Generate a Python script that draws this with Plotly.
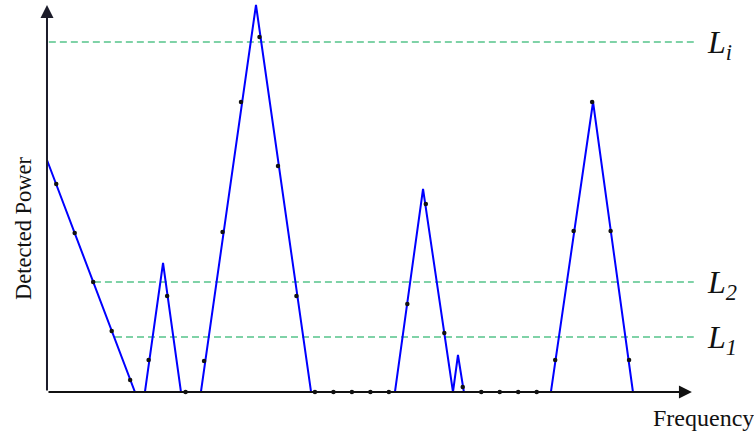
import plotly.graph_objects as go

# Detected power envelope (blue polyline): frequency (sample units) and power (arbitrary units)
line_freq = [0, 4.76, 5.30, 6.28, 7.25, 8.33, 11.31, 14.29, 18.83, 20.35, 21.97, 22.24, 22.56, 27.27, 29.55, 31.71]
line_power = [232, 0, 0, 129, 0, 0, 387, 0, 0, 203, 0, 37, 0, 0, 290, 0]

# Sampled points (black dots)
sample_freq = [k + 0.5 for k in range(32)]
sample_power = [208, 159, 110, 61, 12, 32, 96, 0, 31, 160, 290, 355, 226, 96,
                0, 0, 0, 0, 0, 88, 188, 59, 5, 0, 0, 0, 0, 32, 161, 290, 161, 32]

# Threshold levels
level_labels = ["<i>L<sub>i</sub></i>", "<i>L<sub>2</sub></i>", "<i>L<sub>1</sub></i>"]
level_values = [350, 110, 55]
level_starts = [0.1, 2.54, 3.68]

x_end = 34.9
y_end = 387
SERIF = "Liberation Serif, serif"

fig = go.Figure()
fig.add_trace(go.Scatter(x=line_freq, y=line_power, mode="lines", cliponaxis=False,
                         line=dict(color="#0000ff", width=2), hoverinfo="skip"))
fig.add_trace(go.Scatter(x=sample_freq, y=sample_power, mode="markers", cliponaxis=False,
                         marker=dict(color="#111111", size=4.5), hoverinfo="skip"))

for lab, val, x0 in zip(level_labels, level_values, level_starts):
    fig.add_shape(type="line", x0=x0, x1=35.0, y0=val, y1=val, xref="x", yref="y",
                  line=dict(color="#55c48a", width=1.5, dash="7px,4px"), layer="below")
    fig.add_annotation(x=35.6, y=val - 2, text=lab, showarrow=False, xanchor="left",
                       yanchor="middle", font=dict(family=SERIF, size=32, color="#111111"))

# axes with arrowheads
fig.add_annotation(x=x_end, y=0, ax=0, ay=0, xref="x", yref="y", axref="x", ayref="y",
                   text="", showarrow=True, arrowhead=2, arrowsize=1.3, arrowwidth=2,
                   arrowcolor="#111111", standoff=0)
fig.add_annotation(x=0, y=y_end, ax=0, ay=0, xref="x", yref="y", axref="x", ayref="y",
                   text="", showarrow=True, arrowhead=2, arrowsize=1.3, arrowwidth=2,
                   arrowcolor="#1c1c2a", standoff=0)

fig.add_annotation(x=-1.3, y=164, text="Detected Power", showarrow=False, textangle=-90,
                   xanchor="center", yanchor="middle",
                   font=dict(family=SERIF, size=22.5, color="#111111"))
fig.add_annotation(x=35.55, y=-26, text="Frequency", showarrow=False,
                   xanchor="center", yanchor="middle",
                   font=dict(family=SERIF, size=24, color="#111111"))

fig.update_layout(
    width=754, height=435, margin=dict(l=0, r=0, t=0, b=0),
    paper_bgcolor="white", plot_bgcolor="white", showlegend=False,
    xaxis=dict(range=[-2.543, 38.26], visible=False, fixedrange=True),
    yaxis=dict(range=[-43, 392], visible=False, fixedrange=True),
)
fig.write_html("out.html", config={"displayModeBar": False},
               post_script="document.body.style.margin='0';")
